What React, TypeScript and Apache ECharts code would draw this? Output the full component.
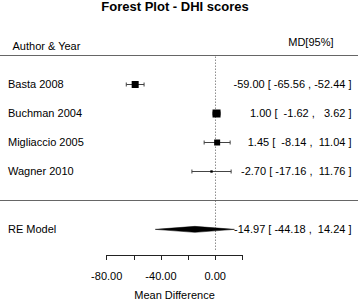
import React, { useEffect, useRef } from "react";
import * as echarts from "echarts";

// ---- data ----
const studies = ["Basta 2008", "Buchman 2004", "Migliaccio 2005", "Wagner 2010"];
const estimates = [-59.0, 1.0, 1.45, -2.7];
const ciLower = [-65.56, -1.62, -8.14, -17.16];
const ciUpper = [-52.44, 3.62, 11.04, 11.76];
const relWeights = [0.875, 1.0, 0.75, 0.3];
const studyRows = [6, 5, 4, 3];

const summaryLabel = "RE Model";
const summaryEst = -14.97;
const summaryLower = -44.18;
const summaryUpper = 14.24;
const summaryRow = 1;

const xTicks = [-80, -60, -40, -20, 0, 20];
const xTickLabels = [-80, -40, 0];

const titleText = "Forest Plot - DHI scores";
const headLeft = "Author & Year";
const headRight = "MD[95%]";
const xName = "Mean Difference";

const FONT = '"Liberation Sans", Arial, sans-serif';

function fmt(v: number, w: number) {
  return v.toFixed(2).padStart(w, " ");
}
function annot(est: number, lb: number, ub: number) {
  return `${fmt(est, 6)} [ ${fmt(lb, 6)} , ${fmt(ub, 6)} ]`;
}

export default function App() {
  const ref = useRef<HTMLDivElement>(null);
  useEffect(() => {
    if (!ref.current) return;
    const chart = echarts.init(ref.current, null, { renderer: "svg" });
    const maxBox = 8;
    const textRightX = 351.5;

    const studyData = studies.map((s, i) => ({
      name: s,
      value: [estimates[i], ciLower[i], ciUpper[i], studyRows[i], relWeights[i]],
    }));

    chart.setOption({
      animation: false,
      title: {
        text: titleText,
        left: 175,
        top: 0,
        padding: 0,
        textAlign: "center",
        textStyle: { fontFamily: FONT, fontSize: 13, fontWeight: "bold", color: "#000" },
      },
      grid: { left: 106.7, right: 115.7, top: 25.5, bottom: 45, containLabel: false },
      xAxis: {
        type: "value",
        min: xTicks[0],
        max: xTicks[xTicks.length - 1],
        interval: 20,
        splitLine: { show: false },
        axisLine: { show: true, lineStyle: { color: "#222", width: 1 } },
        axisTick: { show: true, length: 5, lineStyle: { color: "#222" } },
        axisLabel: {
          margin: 15,
          fontFamily: FONT,
          fontSize: 11,
          color: "#000",
          formatter: (v: number) => (xTickLabels.includes(v) ? v.toFixed(2) : ""),
        },
        name: xName,
        nameLocation: "middle",
        nameGap: 34,
        nameTextStyle: { fontFamily: FONT, fontSize: 11, color: "#000" },
      },
      yAxis: { type: "value", min: 0.12, max: 8, show: false },
      series: [
        {
          type: "custom",
          name: "frame",
          silent: true,
          data: [[0]],
          renderItem: (params: any, api: any) => {
            const W = api.getWidth();
            const yTop = Math.round(api.coord([0, 7])[1]) + 0.5;
            const yBot = Math.round(api.coord([0, 2])[1]) + 0.5;
            const x0 = Math.round(api.coord([0, 0])[0]) + 0.5;
            const yA = api.coord([0, 6.93])[1];
            const yB = api.coord([0, 0.28])[1];
            const yHeadL = api.coord([0, 7.3])[1];
            const yHeadR = api.coord([0, 7.44])[1];
            return {
              type: "group",
              children: [
                { type: "line", shape: { x1: 0, y1: yTop, x2: W, y2: yTop }, style: { stroke: "#666", lineWidth: 1 } },
                { type: "line", shape: { x1: 0, y1: yBot, x2: W, y2: yBot }, style: { stroke: "#666", lineWidth: 1 } },
                {
                  type: "line",
                  shape: { x1: x0, y1: yA, x2: x0, y2: yB },
                  style: { stroke: "#555", lineWidth: 1, lineDash: [1, 2] },
                },
                {
                  type: "text",
                  style: { text: headLeft, x: 12.5, y: yHeadL, textAlign: "left", textVerticalAlign: "middle", font: `11px ${FONT}`, fill: "#000" },
                },
                {
                  type: "text",
                  style: { text: headRight, x: 333.5, y: yHeadR, textAlign: "right", textVerticalAlign: "middle", font: `11px ${FONT}`, fill: "#000" },
                },
              ],
            };
          },
        },
        {
          type: "custom",
          name: "studies",
          data: studyData,
          renderItem: (params: any, api: any) => {
            const est = api.value(0);
            const lb = api.value(1);
            const ub = api.value(2);
            const row = api.value(3);
            const w = api.value(4);
            const [xe, yc] = api.coord([est, row]);
            const xl = api.coord([lb, row])[0];
            const xu = api.coord([ub, row])[0];
            const y = Math.round(yc) + 0.5;
            const s = Math.max(2, w * maxBox);
            const i = params.dataIndex;
            return {
              type: "group",
              children: [
                { type: "line", shape: { x1: xl, y1: y, x2: xu, y2: y }, style: { stroke: "#444", lineWidth: 1 } },
                { type: "line", shape: { x1: xl, y1: y - 2, x2: xl, y2: y + 2 }, style: { stroke: "#444", lineWidth: 1 } },
                { type: "line", shape: { x1: xu, y1: y - 2, x2: xu, y2: y + 2 }, style: { stroke: "#444", lineWidth: 1 } },
                { type: "rect", shape: { x: xe - s / 2, y: y - s / 2, width: s, height: s }, style: { fill: "#000" } },
                {
                  type: "text",
                  style: { text: studies[i], x: 8, y: yc, textAlign: "left", textVerticalAlign: "middle", font: `11px ${FONT}`, fill: "#000" },
                },
                {
                  type: "text",
                  style: {
                    text: annot(est, lb, ub),
                    x: textRightX,
                    y: yc,
                    textAlign: "right",
                    textVerticalAlign: "middle",
                    font: `11px ${FONT}`,
                    fill: "#000",
                  },
                },
              ],
            };
          },
        },
        {
          type: "custom",
          name: "summary",
          data: [[summaryEst, summaryLower, summaryUpper, summaryRow]],
          renderItem: (params: any, api: any) => {
            const est = api.value(0);
            const lb = api.value(1);
            const ub = api.value(2);
            const row = api.value(3);
            const [xe, y] = api.coord([est, row]);
            const xl = api.coord([lb, row])[0];
            const xu = api.coord([ub, row])[0];
            const h = 3;
            return {
              type: "group",
              children: [
                {
                  type: "polygon",
                  shape: { points: [[xl, y], [xe, y - h], [xu, y], [xe, y + h]] },
                  style: { fill: "#000", stroke: "#000", lineWidth: 0.5 },
                },
                {
                  type: "text",
                  style: { text: summaryLabel, x: 8, y, textAlign: "left", textVerticalAlign: "middle", font: `11px ${FONT}`, fill: "#000" },
                },
                {
                  type: "text",
                  style: {
                    text: annot(est, lb, ub),
                    x: textRightX,
                    y,
                    textAlign: "right",
                    textVerticalAlign: "middle",
                    font: `11px ${FONT}`,
                    fill: "#000",
                  },
                },
              ],
            };
          },
        },
      ],
    });
    return () => chart.dispose();
  }, []);
  return (
    <div
      ref={ref}
      style={{ position: "absolute", left: 0, top: 0, width: 358, height: 305, background: "#fff" }}
    />
  );
}
